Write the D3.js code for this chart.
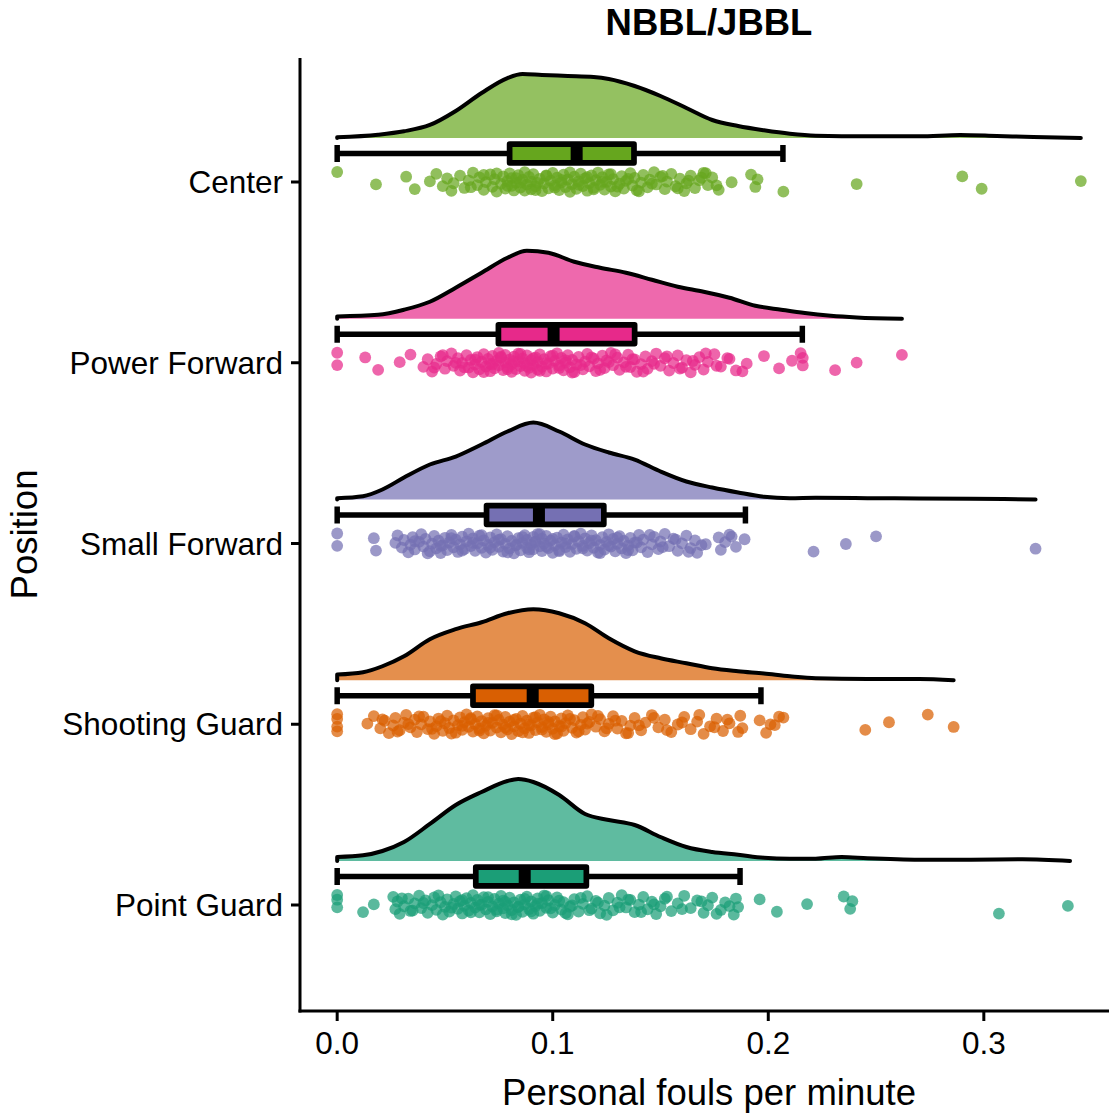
<!DOCTYPE html>
<html lang="en">
<head>
    <meta charset="UTF-8">
    <title>NBBL/JBBL - personal fouls per minute</title>
    <style>
        body {
            margin: 0;
            padding: 0;
            background: #ffffff;
        }
        svg text {
            font-family: "Liberation Sans", Arial, sans-serif;
            fill: #000000;
        }
    </style>
</head>
<body>
    <div id="chart"></div>

    <script src="https://d3js.org/d3.v7.min.js"></script>
    <script>
        // ---- data ----
        const categories = ["Center", "Power Forward", "Small Forward", "Shooting Guard", "Point Guard"];
        const colors = ["#66A61E", "#E7298A", "#7570B3", "#D95F02", "#1B9E77"];
        const xTicks = [0, 0.1, 0.2, 0.3];

        // [lower whisker, q1, median, q3, upper whisker]
        const boxStats = [
            [0, 0.0800, 0.1111, 0.1377, 0.2068],
            [0, 0.0748, 0.1004, 0.1380, 0.2158],
            [0, 0.0693, 0.0936, 0.1237, 0.1894],
            [0, 0.0630, 0.0907, 0.1179, 0.1966],
            [0, 0.0643, 0.0870, 0.1156, 0.1869]
        ];

        // density curves: [value, density]
        const densCenter = [[0, 0.1], [0.019, 0.47], [0.031, 0.96], [0.043, 1.86], [0.055, 3.86], [0.067, 6.43],
            [0.079, 8.57], [0.086, 9.14], [0.095, 9.0], [0.107, 8.86], [0.119, 8.71], [0.126, 8.43], [0.138, 7.43],
            [0.150, 6.0], [0.162, 4.29], [0.174, 2.57], [0.186, 1.71], [0.198, 1.1], [0.210, 0.61], [0.222, 0.33],
            [0.246, 0.24], [0.270, 0.24], [0.289, 0.43], [0.306, 0.29], [0.323, 0.14], [0.345, 0]];
        const densPower = [[0, 0.33], [0.019, 0.57], [0.031, 1.29], [0.043, 2.43], [0.055, 4.43], [0.067, 6.57],
            [0.079, 8.71], [0.088, 9.71], [0.098, 9.43], [0.110, 8.14], [0.122, 7.29], [0.134, 6.57], [0.146, 5.57],
            [0.158, 4.57], [0.170, 3.86], [0.182, 3.0], [0.194, 1.86], [0.206, 1.29], [0.217, 0.81], [0.229, 0.43],
            [0.241, 0.19], [0.262, 0]];
        const densSmall = [[0, 0.19], [0.012, 0.47], [0.021, 1.43], [0.031, 3.14], [0.043, 5.0], [0.055, 6.14],
            [0.067, 7.86], [0.079, 9.71], [0.091, 11.0], [0.103, 9.71], [0.115, 7.86], [0.126, 6.71], [0.138, 5.71],
            [0.150, 4.0], [0.162, 2.57], [0.174, 1.71], [0.186, 1.0], [0.198, 0.39], [0.210, 0.19], [0.222, 0.24],
            [0.246, 0.19], [0.270, 0.14], [0.294, 0.1], [0.324, 0]];
        const densShooting = [[0, 0.81], [0.012, 1.14], [0.021, 2.0], [0.031, 3.43], [0.043, 5.86], [0.055, 7.29],
            [0.067, 8.29], [0.079, 9.57], [0.091, 10.14], [0.103, 9.57], [0.115, 8.14], [0.126, 6.0], [0.138, 4.14],
            [0.150, 3.14], [0.162, 2.43], [0.174, 1.71], [0.186, 1.29], [0.198, 0.96], [0.210, 0.57], [0.222, 0.29],
            [0.246, 0.19], [0.270, 0.19], [0.286, 0]];
        const densPoint = [[0, 0.57], [0.012, 0.81], [0.021, 1.43], [0.031, 2.71], [0.043, 5.29], [0.055, 8.0],
            [0.067, 9.86], [0.079, 11.43], [0.084, 11.71], [0.091, 11.29], [0.103, 9.43], [0.115, 6.71], [0.126, 5.86],
            [0.138, 5.14], [0.150, 3.43], [0.162, 2.0], [0.174, 1.29], [0.186, 0.9], [0.198, 0.47], [0.210, 0.33],
            [0.222, 0.33], [0.234, 0.57], [0.246, 0.39], [0.270, 0.19], [0.294, 0.19], [0.318, 0.24], [0.340, 0]];

        // individual players (fouls per minute)
        const ptsCenter = [0.000, 0.018, 0.032, 0.036, 0.043, 0.046, 0.049, 0.051, 0.053, 0.054, 0.057, 0.059, 0.061,
            0.063, 0.065, 0.066, 0.068, 0.069, 0.071, 0.072, 0.073, 0.074, 0.076, 0.077, 0.078, 0.079, 0.080, 0.081,
            0.081, 0.082, 0.083, 0.084, 0.085, 0.086, 0.087, 0.088, 0.089, 0.090, 0.090, 0.091, 0.092, 0.094, 0.095,
            0.096, 0.097, 0.098, 0.099, 0.100, 0.101, 0.102, 0.103, 0.104, 0.105, 0.106, 0.107, 0.108, 0.109, 0.110,
            0.111, 0.112, 0.113, 0.114, 0.115, 0.116, 0.117, 0.118, 0.119, 0.120, 0.121, 0.122, 0.123, 0.124, 0.125,
            0.126, 0.127, 0.128, 0.129, 0.131, 0.132, 0.133, 0.134, 0.136, 0.137, 0.138, 0.139, 0.141, 0.142, 0.144,
            0.145, 0.147, 0.148, 0.150, 0.152, 0.153, 0.155, 0.157, 0.159, 0.161, 0.162, 0.164, 0.166, 0.168, 0.170,
            0.172, 0.174, 0.177, 0.183, 0.192, 0.194, 0.195, 0.207, 0.241, 0.290, 0.299, 0.345,
            0.074, 0.079, 0.083, 0.087, 0.093, 0.097, 0.101, 0.104, 0.108, 0.112, 0.116, 0.119, 0.123, 0.127, 0.130,
            0.135, 0.140, 0.146, 0.151, 0.158, 0.163, 0.171, 0.176, 0.169, 0.092, 0.085, 0.068, 0.062];
        const ptsPower = [0.000, 0.000, 0.013, 0.019, 0.029, 0.034, 0.040, 0.042, 0.044, 0.046, 0.048, 0.050, 0.051,
            0.053, 0.054, 0.056, 0.057, 0.058, 0.060, 0.061, 0.062, 0.063, 0.064, 0.065, 0.066, 0.067, 0.068, 0.069,
            0.070, 0.071, 0.071, 0.072, 0.073, 0.074, 0.075, 0.075, 0.076, 0.077, 0.078, 0.078, 0.079, 0.080, 0.081,
            0.081, 0.082, 0.083, 0.084, 0.084, 0.085, 0.086, 0.087, 0.087, 0.088, 0.089, 0.090, 0.090, 0.091, 0.092,
            0.093, 0.093, 0.094, 0.095, 0.096, 0.097, 0.098, 0.099, 0.100, 0.101, 0.102, 0.103, 0.104, 0.105, 0.106,
            0.107, 0.108, 0.109, 0.110, 0.111, 0.112, 0.114, 0.115, 0.116, 0.117, 0.119, 0.120, 0.121, 0.123, 0.124,
            0.125, 0.127, 0.128, 0.130, 0.131, 0.133, 0.135, 0.136, 0.138, 0.139, 0.141, 0.143, 0.144, 0.146, 0.148,
            0.150, 0.152, 0.154, 0.156, 0.158, 0.160, 0.162, 0.164, 0.166, 0.168, 0.170, 0.172, 0.175, 0.178, 0.182,
            0.188, 0.190, 0.198, 0.205, 0.211, 0.215, 0.216, 0.216, 0.231, 0.241, 0.262,
            0.059, 0.064, 0.068, 0.072, 0.076, 0.079, 0.082, 0.085, 0.088, 0.091, 0.094, 0.097, 0.100, 0.103, 0.106,
            0.109, 0.113, 0.118, 0.122, 0.126, 0.129, 0.134, 0.137, 0.142, 0.147, 0.153, 0.159, 0.165, 0.171, 0.176,
            0.181, 0.185, 0.055, 0.049, 0.045];
        const ptsSmall = [0.000, 0.000, 0.017, 0.018, 0.027, 0.028, 0.030, 0.031, 0.033, 0.034, 0.035, 0.036, 0.038,
            0.039, 0.040, 0.041, 0.043, 0.044, 0.045, 0.046, 0.047, 0.048, 0.049, 0.050, 0.051, 0.052, 0.053, 0.054,
            0.055, 0.056, 0.057, 0.058, 0.059, 0.060, 0.061, 0.062, 0.063, 0.064, 0.065, 0.066, 0.067, 0.068, 0.069,
            0.070, 0.071, 0.072, 0.073, 0.074, 0.075, 0.076, 0.077, 0.078, 0.079, 0.080, 0.081, 0.082, 0.083, 0.084,
            0.085, 0.086, 0.087, 0.088, 0.088, 0.089, 0.090, 0.091, 0.091, 0.092, 0.093, 0.094, 0.095, 0.095, 0.096,
            0.097, 0.098, 0.099, 0.100, 0.101, 0.102, 0.103, 0.104, 0.105, 0.106, 0.107, 0.108, 0.109, 0.110, 0.111,
            0.112, 0.113, 0.114, 0.115, 0.116, 0.117, 0.118, 0.119, 0.120, 0.121, 0.122, 0.123, 0.124, 0.125, 0.126,
            0.127, 0.128, 0.129, 0.130, 0.131, 0.132, 0.133, 0.134, 0.135, 0.136, 0.137, 0.138, 0.140, 0.141, 0.142,
            0.144, 0.146, 0.147, 0.149, 0.150, 0.152, 0.154, 0.156, 0.158, 0.160, 0.162, 0.164, 0.166, 0.167, 0.169,
            0.177, 0.178, 0.180, 0.182, 0.185, 0.189, 0.221, 0.236, 0.250, 0.324,
            0.036, 0.042, 0.048, 0.053, 0.058, 0.063, 0.067, 0.071, 0.075, 0.079, 0.083, 0.086, 0.089, 0.092, 0.094,
            0.097, 0.100, 0.103, 0.106, 0.110, 0.114, 0.118, 0.122, 0.126, 0.130, 0.135, 0.139, 0.145, 0.151, 0.157,
            0.163, 0.171, 0.183];
        const ptsShooting = [0.000, 0.000, 0.000, 0.000, 0.014, 0.017, 0.020, 0.022, 0.024, 0.026, 0.027, 0.029,
            0.031, 0.032, 0.034, 0.036, 0.037, 0.039, 0.040, 0.042, 0.043, 0.045, 0.046, 0.047, 0.049, 0.050, 0.051,
            0.052, 0.054, 0.055, 0.056, 0.057, 0.058, 0.059, 0.060, 0.061, 0.062, 0.063, 0.064, 0.065, 0.066, 0.067,
            0.068, 0.069, 0.070, 0.071, 0.072, 0.073, 0.074, 0.075, 0.076, 0.077, 0.078, 0.079, 0.080, 0.081, 0.082,
            0.083, 0.084, 0.085, 0.086, 0.087, 0.088, 0.089, 0.090, 0.091, 0.092, 0.093, 0.094, 0.095, 0.096, 0.097,
            0.098, 0.099, 0.100, 0.101, 0.102, 0.103, 0.104, 0.105, 0.106, 0.107, 0.109, 0.110, 0.111, 0.113, 0.114,
            0.115, 0.117, 0.118, 0.120, 0.122, 0.124, 0.126, 0.128, 0.130, 0.132, 0.134, 0.136, 0.138, 0.141, 0.143,
            0.146, 0.149, 0.152, 0.155, 0.158, 0.161, 0.164, 0.167, 0.170, 0.173, 0.176, 0.179, 0.182, 0.187, 0.188,
            0.196, 0.199, 0.203, 0.207, 0.245, 0.256, 0.274, 0.286,
            0.021, 0.028, 0.033, 0.038, 0.044, 0.048, 0.053, 0.058, 0.062, 0.066, 0.070, 0.074, 0.078, 0.082, 0.086,
            0.089, 0.092, 0.095, 0.098, 0.101, 0.104, 0.108, 0.112, 0.116, 0.121, 0.125, 0.129, 0.135, 0.140, 0.147,
            0.153, 0.160, 0.168, 0.175, 0.181, 0.186, 0.201, 0.205];
        const ptsPoint = [0.000, 0.000, 0.000, 0.012, 0.017, 0.026, 0.027, 0.028, 0.029, 0.031, 0.033, 0.034, 0.036,
            0.038, 0.039, 0.041, 0.042, 0.044, 0.045, 0.046, 0.048, 0.049, 0.050, 0.051, 0.052, 0.054, 0.055, 0.056,
            0.057, 0.058, 0.059, 0.060, 0.061, 0.062, 0.063, 0.064, 0.065, 0.066, 0.067, 0.068, 0.069, 0.070, 0.071,
            0.072, 0.073, 0.074, 0.075, 0.076, 0.077, 0.077, 0.078, 0.079, 0.080, 0.081, 0.082, 0.083, 0.084, 0.085,
            0.086, 0.087, 0.088, 0.089, 0.090, 0.091, 0.092, 0.093, 0.094, 0.095, 0.096, 0.097, 0.098, 0.100, 0.101,
            0.102, 0.104, 0.105, 0.107, 0.108, 0.110, 0.112, 0.114, 0.116, 0.118, 0.120, 0.122, 0.124, 0.126, 0.128,
            0.130, 0.132, 0.134, 0.136, 0.138, 0.140, 0.142, 0.144, 0.146, 0.148, 0.150, 0.152, 0.155, 0.158, 0.161,
            0.164, 0.167, 0.170, 0.172, 0.174, 0.178, 0.180, 0.184, 0.186, 0.196, 0.204, 0.218, 0.235, 0.238, 0.239,
            0.307, 0.339,
            0.030, 0.035, 0.040, 0.047, 0.053, 0.058, 0.062, 0.066, 0.070, 0.074, 0.078, 0.081, 0.084, 0.087, 0.090,
            0.093, 0.097, 0.099, 0.103, 0.106, 0.109, 0.113, 0.117, 0.121, 0.125, 0.131, 0.135, 0.141, 0.147, 0.153,
            0.160, 0.169, 0.176, 0.182, 0.185];

        const densities = [densCenter, densPower, densSmall, densShooting, densPoint];
        const points = [ptsCenter, ptsPower, ptsSmall, ptsShooting, ptsPoint];

        // ---- layout ----
        const width = 1109;
        const height = 1114;
        const panel = { left: 300, right: 1118, top: 58, bottom: 1011 };

        const svg = d3.select('#chart')
            .append('svg')
            .attr('width', width)
            .attr('height', height);

        const x = d3.scaleLinear()
            .domain([-0.01725, 0.36225])
            .range([panel.left, panel.right]);

        const y = d3.scalePoint()
            .domain(categories)
            .range([182, 905]);

        const dens = d3.scaleLinear().domain([0, 12]).range([0, 84]);

        const densOffset = -44;   // density baseline above category line
        const boxOffset = -28.5;  // box centre above category line
        const boxHalf = 9.3;
        const capHalf = 8.5;

        // deterministic spread of the rain points around the category line
        const jitter = i => (((i * 0.6180339887) % 1) - 0.5) * 20;

        const plot = svg.append('g');

        categories.forEach((cat, ci) => {
            const cy = y(cat);
            const base = cy + densOffset;
            const d = densities[ci];
            const col = colors[ci];

            // cloud
            const area = d3.area()
                .x(p => x(p[0]))
                .y0(base)
                .y1(p => base - dens(p[1]))
                .curve(d3.curveMonotoneX);

            plot.append('path')
                .datum(d)
                .attr('d', area)
                .attr('fill', col)
                .attr('fill-opacity', 0.7);

            const line = d3.line()
                .x(p => x(p[0]))
                .y(p => base - dens(p[1]))
                .curve(d3.curveMonotoneX);

            const outline = `M${x(d[0][0])},${base}L` + line(d).slice(1) + `L${x(d[d.length - 1][0])},${base}`;
            plot.append('path')
                .attr('d', outline)
                .attr('fill', 'none')
                .attr('stroke', '#000')
                .attr('stroke-width', 4)
                .attr('stroke-linejoin', 'round')
                .attr('stroke-linecap', 'round');

            // whisker bar with caps
            const [lo, q1, med, q3, hi] = boxStats[ci];
            const by = cy + boxOffset;
            const eb = plot.append('g')
                .attr('stroke', '#000')
                .attr('stroke-width', 5.5);
            eb.append('line')
                .attr('x1', x(lo)).attr('x2', x(hi))
                .attr('y1', by).attr('y2', by);
            [lo, hi].forEach(v => {
                eb.append('line')
                    .attr('x1', x(v)).attr('x2', x(v))
                    .attr('y1', by - capHalf).attr('y2', by + capHalf);
            });

            // box
            plot.append('rect')
                .attr('x', x(q1))
                .attr('y', by - boxHalf)
                .attr('width', x(q3) - x(q1))
                .attr('height', boxHalf * 2)
                .attr('fill', col)
                .attr('stroke', '#000')
                .attr('stroke-width', 5.7)
                .attr('stroke-linejoin', 'round');

            plot.append('line')
                .attr('x1', x(med)).attr('x2', x(med))
                .attr('y1', by - boxHalf).attr('y2', by + boxHalf)
                .attr('stroke', '#000')
                .attr('stroke-width', 12);

            // rain
            plot.append('g')
                .selectAll('circle')
                .data(points[ci])
                .join('circle')
                .attr('cx', v => x(v))
                .attr('cy', (v, i) => cy + jitter(i))
                .attr('r', 5.9)
                .attr('fill', col)
                .attr('fill-opacity', 0.72);
        });

        // ---- axes ----
        const axisG = svg.append('g')
            .attr('stroke', '#000')
            .attr('stroke-width', 3);

        axisG.append('line')
            .attr('x1', panel.left).attr('x2', panel.left)
            .attr('y1', panel.top).attr('y2', panel.bottom + 1.5);
        axisG.append('line')
            .attr('x1', panel.left - 1.5).attr('x2', panel.right)
            .attr('y1', panel.bottom).attr('y2', panel.bottom);

        // y ticks + labels
        categories.forEach(cat => {
            axisG.append('line')
                .attr('x1', panel.left - 9).attr('x2', panel.left)
                .attr('y1', y(cat)).attr('y2', y(cat));
        });
        svg.append('g')
            .selectAll('text')
            .data(categories)
            .join('text')
            .attr('x', 283)
            .attr('y', d => y(d))
            .attr('dy', '0.35em')
            .attr('text-anchor', 'end')
            .style('font-size', '31.5px')
            .text(d => d);

        // x ticks + labels
        xTicks.forEach(t => {
            axisG.append('line')
                .attr('x1', x(t)).attr('x2', x(t))
                .attr('y1', panel.bottom).attr('y2', panel.bottom + 10);
        });
        svg.append('g')
            .selectAll('text')
            .data(xTicks)
            .join('text')
            .attr('x', d => x(d))
            .attr('y', 1054)
            .attr('text-anchor', 'middle')
            .style('font-size', '31.5px')
            .text(d => d3.format('.1f')(d));

        // titles
        const cx = (panel.left + panel.right) / 2;
        svg.append('text')
            .attr('x', cx)
            .attr('y', 35)
            .attr('text-anchor', 'middle')
            .style('font-size', '36.5px')
            .style('font-weight', 'bold')
            .text('NBBL/JBBL');

        svg.append('text')
            .attr('x', cx)
            .attr('y', 1105)
            .attr('text-anchor', 'middle')
            .style('font-size', '36.5px')
            .text('Personal fouls per minute');

        svg.append('text')
            .attr('transform', `translate(37,${(panel.top + panel.bottom) / 2}) rotate(-90)`)
            .attr('text-anchor', 'middle')
            .style('font-size', '36.5px')
            .text('Position');
    </script>
</body>
</html>
